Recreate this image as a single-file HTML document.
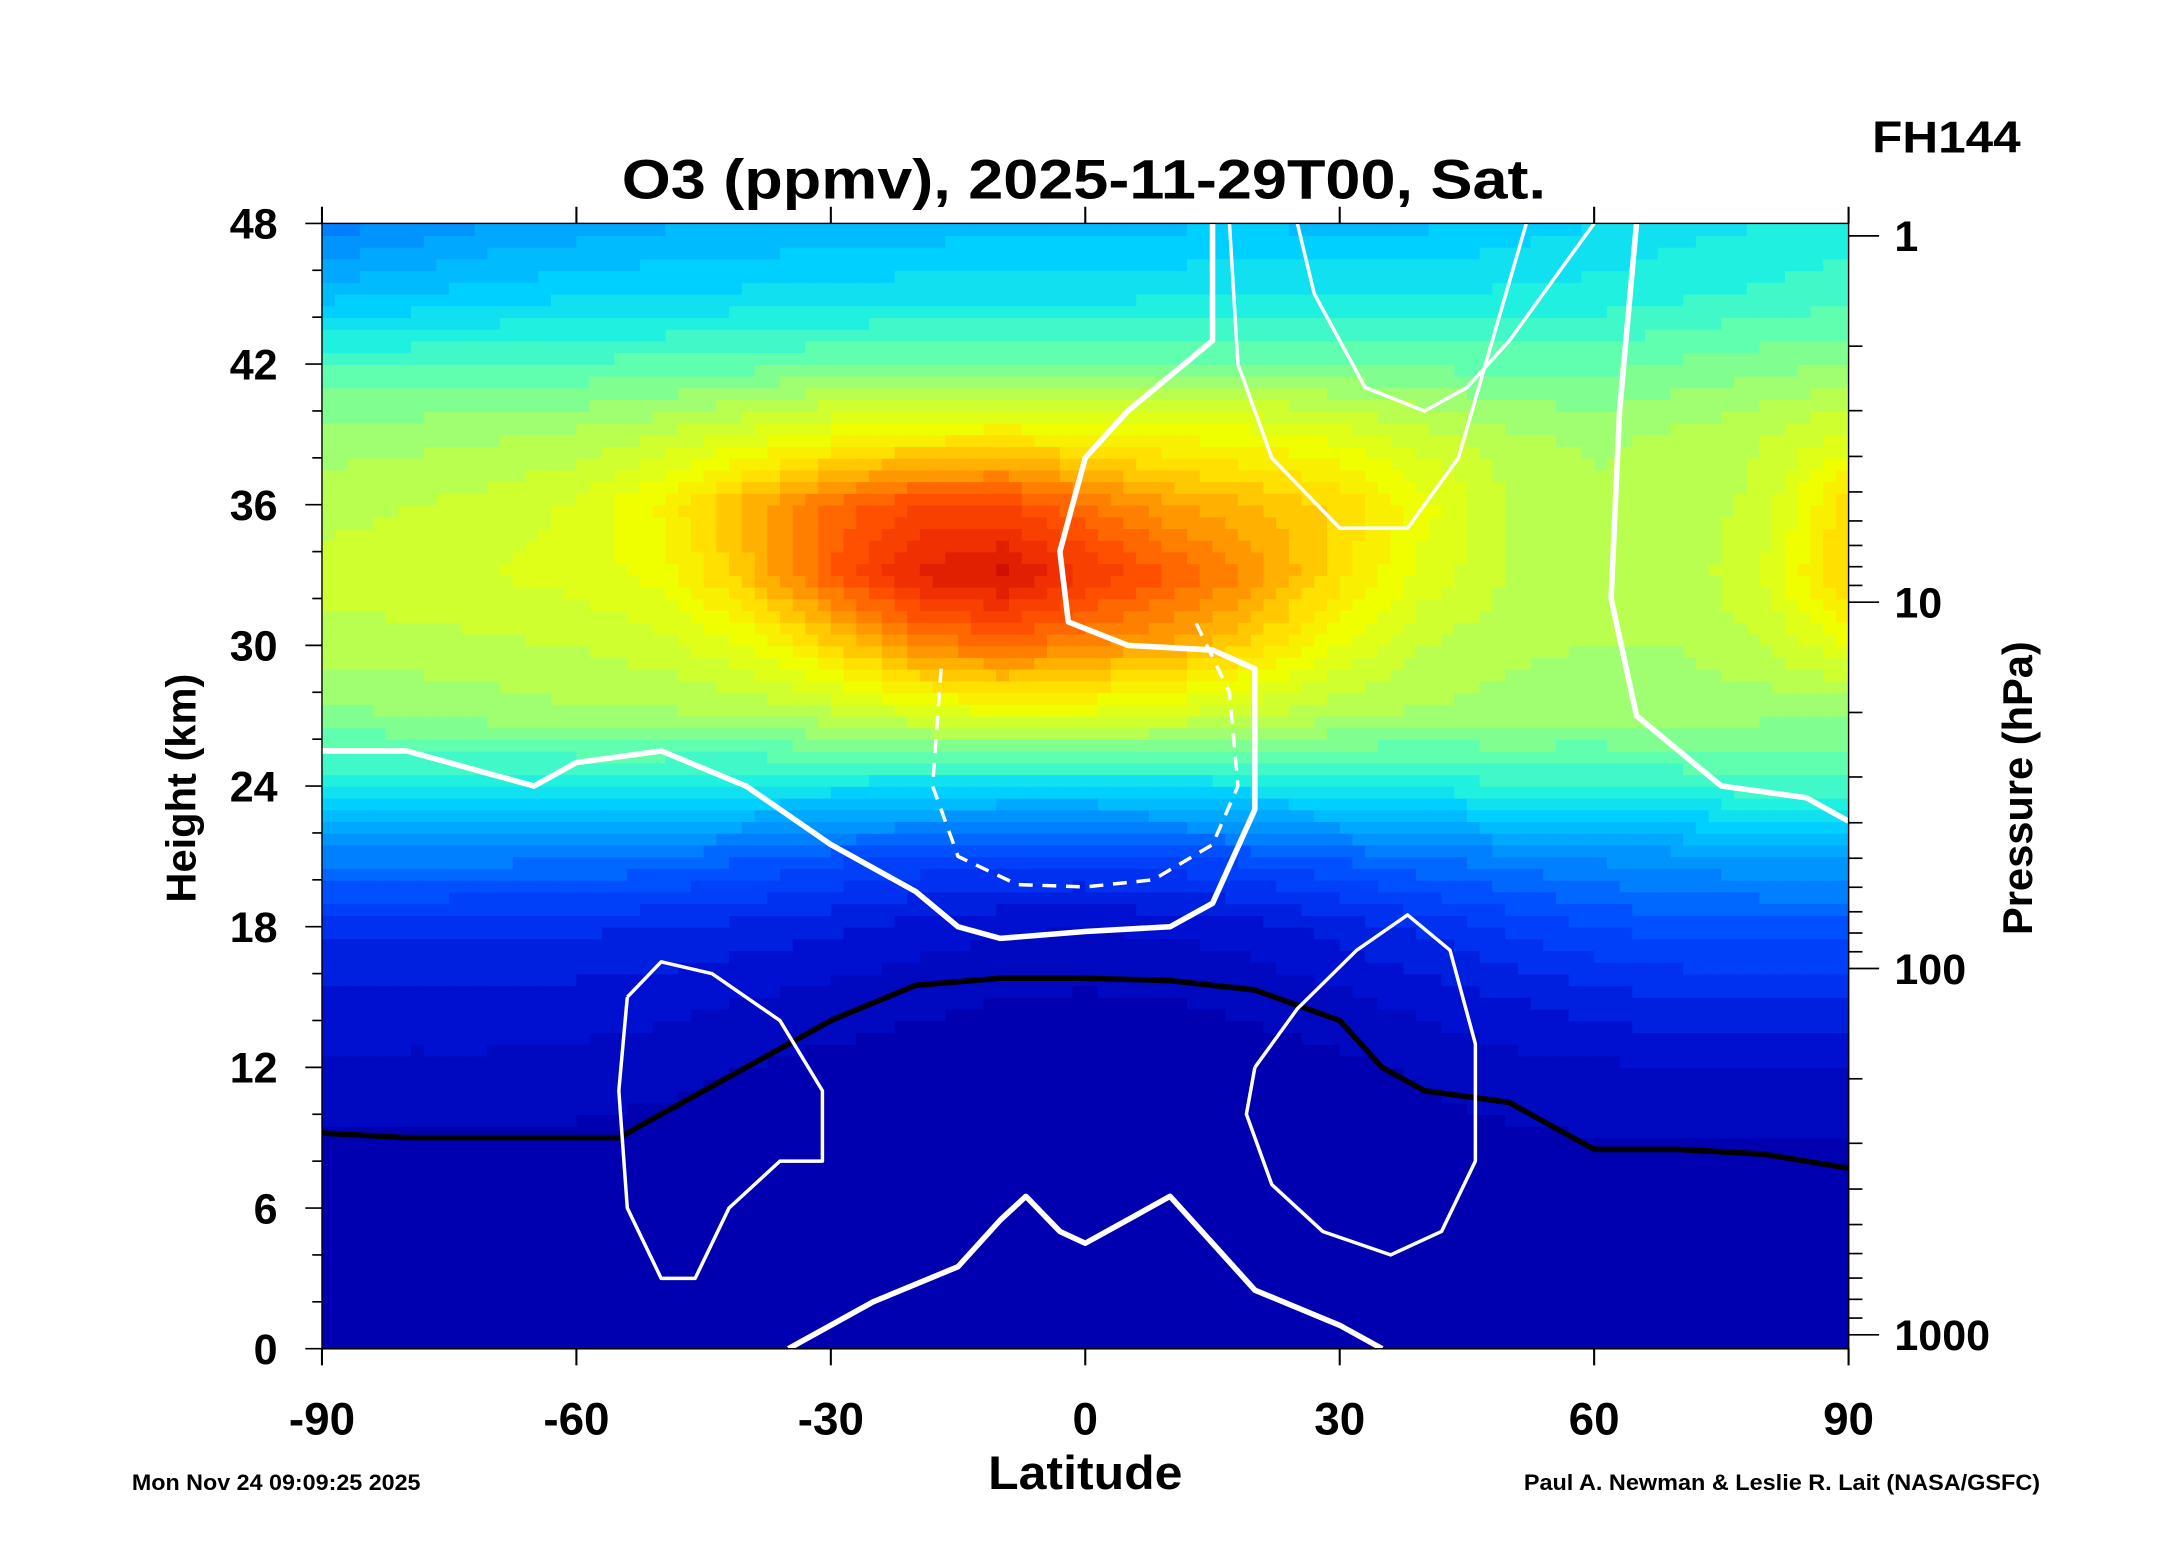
<!DOCTYPE html>
<html><head><meta charset="utf-8"><style>
html,body{margin:0;padding:0;background:#fff;}
svg{display:block;font-family:"Liberation Sans",sans-serif;font-weight:bold;}
</style></head><body>
<svg id="chart" width="2165" height="1561" viewBox="0 0 1560 1125" preserveAspectRatio="none" xmlns="http://www.w3.org/2000/svg">
<rect width="1560" height="1125" fill="#fff"/>
<g id="heat"></g>
<g id="lines"></g>
<g id="axes"></g>
<text x="448" y="143" font-size="40" textLength="666" lengthAdjust="spacingAndGlyphs">O3 (ppmv), 2025-11-29T00, Sat.</text>
<text x="1349" y="110" font-size="32" textLength="107" lengthAdjust="spacingAndGlyphs">FH144</text>
<text x="712" y="1073" font-size="34" textLength="140" lengthAdjust="spacingAndGlyphs">Latitude</text>
<text transform="translate(141,568) rotate(-90)" font-size="30" text-anchor="middle">Height (km)</text>
<text transform="translate(1464,568) rotate(-90)" font-size="30" text-anchor="middle">Pressure (hPa)</text>
<text x="95" y="1074" font-size="16" textLength="208" lengthAdjust="spacingAndGlyphs">Mon Nov 24 09:09:25 2025</text>
<text x="1098" y="1074" font-size="16" textLength="372" lengthAdjust="spacingAndGlyphs">Paul A. Newman &amp; Leslie R. Lait (NASA/GSFC)</text>
</svg>
<script>
const lats=[-90,-80,-70,-60,-50,-40,-30,-20,-10,0,10,20,30,40,50,60,70,80,90];
const heights=[0,3,6,9,12,15,18,21,24,27,30,33,36,39,42,45,48];
const o3_0=[0.05,0.05,0.05,0.05,0.05,0.05,0.05,0.05,0.05,0.05,0.05,0.05,0.05,0.05,0.05,0.05,0.05,0.05,0.05];
const o3_3=[0.08,0.08,0.08,0.08,0.08,0.08,0.08,0.08,0.08,0.08,0.08,0.08,0.08,0.08,0.08,0.08,0.08,0.08,0.08];
const o3_6=[0.15,0.15,0.15,0.15,0.12,0.1,0.1,0.1,0.1,0.1,0.1,0.1,0.1,0.12,0.15,0.2,0.2,0.2,0.2];
const o3_9=[0.4,0.4,0.4,0.4,0.3,0.2,0.15,0.12,0.12,0.12,0.12,0.12,0.15,0.3,0.4,0.5,0.5,0.5,0.5];
const o3_12=[0.9,0.9,0.9,0.8,0.7,0.5,0.35,0.3,0.25,0.25,0.25,0.3,0.35,0.6,0.8,0.9,1.0,1.0,1.0];
const o3_15=[1.3,1.3,1.3,1.3,1.2,1.0,0.8,0.6,0.5,0.45,0.5,0.6,0.9,1.2,1.5,1.8,2.0,2.0,2.0];
const o3_18=[2.2,2.2,2.1,2.1,2.0,1.8,1.6,1.3,1.1,1.0,1.1,1.3,1.7,2.1,2.6,3.0,3.2,3.3,3.3];
const o3_21=[4.2,4.2,4.2,4.1,3.9,3.6,3.2,2.9,2.7,2.7,2.9,3.2,3.6,4.0,4.3,4.6,4.8,5.0,5.1];
const o3_24=[7.2,7.1,7.0,7.0,7.0,6.9,6.8,6.6,6.4,6.4,6.6,6.8,7.0,7.2,7.4,7.5,7.6,7.8,7.8];
const o3_27=[8.8,9.0,9.2,9.4,9.4,9.5,9.8,10.4,10.8,10.8,10.4,10.0,9.6,9.4,9.3,9.2,9.2,9.1,9.0];
const o3_30=[9.8,9.8,9.9,10.0,10.3,11.0,12.4,14.0,14.6,14.0,13.4,12.4,11.0,10.0,9.6,9.5,9.5,10.0,11.0];
const o3_33=[10.2,10.3,10.5,10.7,11.2,12.8,15.0,16.6,17.2,16.0,15.0,13.8,12.2,10.8,10.0,9.6,9.6,10.6,12.6];
const o3_36=[9.8,10.0,10.2,10.6,11.6,13.2,14.6,15.6,15.6,14.6,13.6,13.0,12.4,11.2,10.0,9.6,9.6,10.2,12.4];
const o3_39=[9.2,9.3,9.4,9.6,10.0,10.6,11.2,11.6,11.8,11.6,11.4,11.2,10.8,10.2,9.6,9.4,9.6,10.0,10.6];
const o3_42=[8.0,8.0,8.1,8.1,8.2,8.3,8.5,8.6,8.6,8.6,8.6,8.6,8.5,8.4,8.3,8.3,8.6,8.8,9.0];
const o3_45=[5.8,6.0,6.2,6.4,6.5,6.6,6.7,6.8,6.8,6.8,6.9,7.0,7.0,7.0,7.1,7.2,7.4,7.6,7.8];
const o3_48=[4.2,4.6,5.0,5.2,5.4,5.5,5.6,5.7,5.8,5.8,5.9,6.0,5.8,5.9,6.2,6.5,6.8,7.0,7.2];
const o3Rows=[o3_0,o3_3,o3_6,o3_9,o3_12,o3_15,o3_18,o3_21,o3_24,o3_27,o3_30,o3_33,o3_36,o3_39,o3_42,o3_45,o3_48];
const colorLevels=[0,1,2,3,4,5,6,7,8,9,10,11,12,13,14,15,16,17];
const colorStops=["#0000b0","#0010d0","#0030f0","#0050ff","#0080ff","#00a8ff","#00d0ff","#20f0e0","#60ffb0","#a0ff70","#d0ff30","#f0ff00","#ffe000","#ffb000","#ff8000","#ff5000","#f03000","#d01000"];
const tropoLat=[-90,-80,-70,-60,-55,-50,-40,-30,-20,-10,0,10,20,30,35,40,50,60,70,80,90];
const tropoKm=[9.2,9.0,9.0,9.0,9.0,10.0,12.0,14.0,15.5,15.8,15.8,15.7,15.3,14.0,12.0,11.0,10.5,8.5,8.5,8.3,7.7];
const zeroMidLat=[-90,-80,-70,-65,-60,-50,-40,-30,-20,-15,-10,0,10,15,20,20,15,5,-2,-3,0,5,15,15];
const zeroMidKm=[25.5,25.5,24.5,24,25,25.5,24,21.5,19.5,18,17.5,17.8,18,19,23,29,29.8,30,31,34,38,40,43,48];
const zeroRightLat=[65,63,62,65,75,85,90];
const zeroRightKm=[48,40,32,27,24,23.5,22.5];
const zeroLowLat=[-35,-25,-15,-10,-7,-3,0,5,10,15,20,30,35];
const zeroLowKm=[0,2,3.5,5.5,6.5,5,4.5,5.5,6.5,4.5,2.5,1,0];
const jetLeftLat=[-54,-50,-44,-36,-31,-31,-36,-42,-46,-50,-54,-55,-54];
const jetLeftKm=[15,16.5,16,14,11,8,8,6,3,3,6,11,15];
const jetRightLat=[20,25,32,38,43,46,46,42,36,28,22,19,20];
const jetRightKm=[12,14.5,17,18.5,17,13,8,5,4,5,7,10,12];
const topRightLat=[17,18,22,30,38,44,48,52];
const topRightKm=[48,42,38,35,35,38,43,48];
const top40Lat=[25,27,33,40,45,50,56,60];
const top40Km=[48,45,41,40,41,43,46,48];
const dashLat=[-17,-18,-15,-8,0,8,15,18,17,13];
const dashKm=[29,24,21,19.8,19.7,20,21.5,24,28,31];
const xTicks=[-90,-60,-30,0,30,60,90];
const yTicks=[0,6,12,18,24,30,36,42,48];
const pTicks=[1,10,100,1000];

const NS="http://www.w3.org/2000/svg";
const X0=232,X1=1332,Y0=972,Y1=161;
const xs=l=>X0+(l+90)/180*(X1-X0);
const ys=h=>Y0-h/48*(Y0-Y1);
const yp=p=>170+Math.log10(p)*264;
function mk(t,a,parent){const e=document.createElementNS(NS,t);for(const k in a)e.setAttribute(k,a[k]);parent.appendChild(e);return e;}
function val(lat,h){
  let i=Math.min(17,Math.max(0,Math.floor((lat+90)/10)));let j=Math.min(15,Math.max(0,Math.floor(h/3)));
  const tx=(lat-lats[i])/10,ty=(h-heights[j])/3;
  const a=o3Rows[j][i],b=o3Rows[j][i+1],c=o3Rows[j+1][i],d=o3Rows[j+1][i+1];
  return a*(1-tx)*(1-ty)+b*tx*(1-ty)+c*(1-tx)*ty+d*tx*ty;
}
function hex(c){return [1,3,5].map(k=>parseInt(c.substr(k,2),16));}
function color(v){
  v=Math.floor(v*2)/2;
  if(v<=colorLevels[0])return colorStops[0];
  for(let k=1;k<colorLevels.length;k++){if(v<=colorLevels[k]){const t=(v-colorLevels[k-1])/(colorLevels[k]-colorLevels[k-1]);const A=hex(colorStops[k-1]),B=hex(colorStops[k]);return "rgb("+A.map((x,n)=>Math.round(x+(B[n]-x)*t)).join(",")+")";}}
  return colorStops[colorStops.length-1];
}
const heat=document.getElementById('heat');
const dl=1.5,dh=0.5;
for(let lat=-90;lat<90;lat+=dl){for(let h=0;h<48;h+=dh){
  const r=mk('rect',{x:xs(lat).toFixed(2),y:ys(h+dh).toFixed(2),width:((X1-X0)*dl/180+0.6).toFixed(2),height:((Y0-Y1)*dh/48+0.6).toFixed(2),fill:color(val(lat+dl/2,h+dh/2))},heat);
  
  
}}
const lines=document.getElementById('lines');
function poly(la,km,stroke,w,name,dash){
  const p=mk('polyline',{points:la.map((l,i)=>xs(l).toFixed(1)+","+ys(km[i]).toFixed(1)).join(" "),fill:"none",stroke:stroke,"stroke-width":w,"stroke-linejoin":"round"},lines);
  if(dash)p.setAttribute('stroke-dasharray',dash);
  
  
}
poly(tropoLat,tropoKm,"#000",4,"tropopause-line");
poly(zeroMidLat,zeroMidKm,"#fff",4,"zero-wind-contour-mid");
poly(zeroRightLat,zeroRightKm,"#fff",4,"zero-wind-contour-right");
poly(zeroLowLat,zeroLowKm,"#fff",4,"zero-wind-contour-low");
poly(jetLeftLat,jetLeftKm,"#fff",2.5,"wind-20-contour-left-jet");
poly(jetRightLat,jetRightKm,"#fff",2.5,"wind-20-contour-right-jet");
poly(topRightLat,topRightKm,"#fff",2.5,"wind-20-contour-top");
poly(top40Lat,top40Km,"#fff",2.5,"wind-40-contour-top");
poly(dashLat,dashKm,"#fff",2.5,"wind-neg20-contour","10,7");
const ax=document.getElementById('axes');
const fr=mk('rect',{x:X0,y:Y1,width:X1-X0,height:Y0-Y1,fill:"none",stroke:"#000","stroke-width":1},ax);

xTicks.forEach(l=>{
  mk('line',{x1:xs(l),x2:xs(l),y1:Y0,y2:Y0+12,stroke:"#000","stroke-width":1.5},ax);
  mk('line',{x1:xs(l),x2:xs(l),y1:Y1,y2:Y1-12,stroke:"#000","stroke-width":1.5},ax);
  const t=mk('text',{x:xs(l),y:Y0+62,"font-size":33,"text-anchor":"middle"},ax);t.textContent=l;
  
});
for(let h=0;h<=48;h+=2){mk('line',{x1:X0,x2:X0-(h%6?7:12),y1:ys(h),y2:ys(h),stroke:"#000","stroke-width":1.2},ax);}
yTicks.forEach(h=>{
  const t=mk('text',{x:200,y:ys(h)+11,"font-size":31,"text-anchor":"end"},ax);t.textContent=h;
  
});
for(let d=0;d<3;d++){for(let m=1;m<10;m++){const p=m*Math.pow(10,d);mk('line',{x1:X1,x2:X1+(m==1?22:10),y1:yp(p),y2:yp(p),stroke:"#000","stroke-width":1.2},ax);}}
mk('line',{x1:X1,x2:X1+22,y1:yp(1000),y2:yp(1000),stroke:"#000","stroke-width":1.2},ax);
pTicks.forEach(p=>{
  const t=mk('text',{x:1365,y:yp(p)+11,"font-size":31},ax);t.textContent=p;
  
});
</script>
</body></html>
